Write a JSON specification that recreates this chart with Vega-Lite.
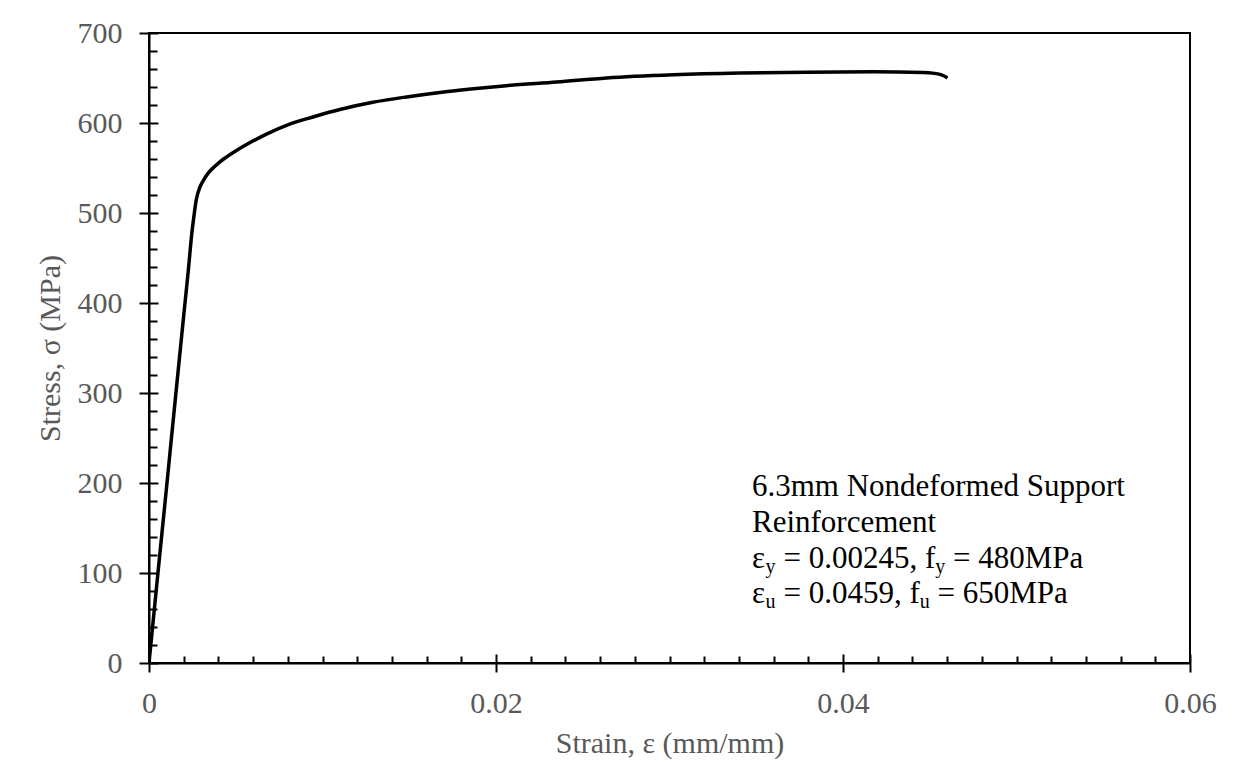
{
  "$schema": "https://vega.github.io/schema/vega-lite/v6.json",
  "width": 1041,
  "height": 630,
  "autosize": {"type": "none"},
  "padding": {"left": 149, "top": 33, "right": 45, "bottom": 100},
  "background": "white",
  "config": {"view": {"stroke": "#000", "strokeWidth": 2}, "font": "Liberation Serif"},
  "datasets": {
    "curve": [
      {"strain": 0, "stress": 0},
      {"strain": 0.0005, "stress": 97},
      {"strain": 0.001, "stress": 193},
      {"strain": 0.0015, "stress": 290},
      {"strain": 0.002, "stress": 386},
      {"strain": 0.00227, "stress": 437},
      {"strain": 0.00246, "stress": 476},
      {"strain": 0.0026, "stress": 498},
      {"strain": 0.0027, "stress": 512},
      {"strain": 0.0028, "stress": 521},
      {"strain": 0.0029, "stress": 527},
      {"strain": 0.0031, "stress": 535},
      {"strain": 0.0034, "stress": 544},
      {"strain": 0.0038, "stress": 552},
      {"strain": 0.0043, "stress": 560},
      {"strain": 0.005, "stress": 569},
      {"strain": 0.0058, "stress": 578},
      {"strain": 0.0068, "stress": 588},
      {"strain": 0.008, "stress": 598},
      {"strain": 0.0095, "stress": 607},
      {"strain": 0.011, "stress": 615},
      {"strain": 0.0129, "stress": 623},
      {"strain": 0.01485, "stress": 629},
      {"strain": 0.01677, "stress": 634},
      {"strain": 0.0187, "stress": 638},
      {"strain": 0.0206, "stress": 641.5},
      {"strain": 0.0235, "stress": 645.5},
      {"strain": 0.02638, "stress": 650},
      {"strain": 0.03022, "stress": 653.5},
      {"strain": 0.03406, "stress": 655.5},
      {"strain": 0.0379, "stress": 656.5},
      {"strain": 0.04175, "stress": 657},
      {"strain": 0.04463, "stress": 656},
      {"strain": 0.04559, "stress": 654},
      {"strain": 0.04602, "stress": 650}
    ],
    "notes": [
      {"x": 0.034755, "y": 185.9, "text": "6.3mm Nondeformed Support"},
      {"x": 0.034755, "y": 145.9, "text": "Reinforcement"},
      {"x": 0.034755, "y": 105.2, "text": "ε"},
      {"x": 0.036565, "y": 105.2, "text": "= 0.00245, f"},
      {"x": 0.04634, "y": 105.2, "text": "= 480MPa"},
      {"x": 0.034755, "y": 66.3, "text": "ε"},
      {"x": 0.036565, "y": 66.3, "text": "= 0.0459, f"},
      {"x": 0.045447, "y": 66.3, "text": "= 650MPa"}
    ],
    "subs": [
      {"x": 0.035539, "y": 99.7, "text": "y"},
      {"x": 0.045314, "y": 99.7, "text": "y"},
      {"x": 0.035539, "y": 60.8, "text": "u"},
      {"x": 0.044421, "y": 60.8, "text": "u"}
    ]
  },
  "layer": [
    {
      "data": {"name": "curve"},
      "mark": {"type": "line", "color": "#000", "strokeWidth": 3.5, "interpolate": "monotone", "clip": true},
      "encoding": {
        "x": {
          "field": "strain", "type": "quantitative",
          "scale": {"domain": [0, 0.06], "nice": false, "zero": false},
          "axis": {
            "orient": "bottom", "values": [0, 0.02, 0.04, 0.06], "format": "~g",
            "tickSize": 9, "tickWidth": 2, "tickColor": "#000",
            "domainColor": "#000", "domainWidth": 2, "grid": false,
            "labelFont": "Liberation Serif", "labelFontSize": 30, "labelColor": "#595959",
            "labelPadding": 16, "labelFlush": false, "labelOverlap": false,
            "title": "Strain, ε (mm/mm)", "titleFont": "Liberation Serif", "titleFontSize": 30,
            "titleFontWeight": "normal", "titleColor": "#595959", "titlePadding": 10
          }
        },
        "y": {
          "field": "stress", "type": "quantitative",
          "scale": {"domain": [0, 700], "nice": false},
          "axis": {
            "orient": "left", "values": [0, 100, 200, 300, 400, 500, 600, 700], "format": "d",
            "tickSize": 10, "tickWidth": 2, "tickColor": "#000",
            "domainColor": "#000", "domainWidth": 2, "grid": false,
            "labelFont": "Liberation Serif", "labelFontSize": 30, "labelColor": "#595959",
            "labelPadding": 17, "labelFlush": false, "labelOverlap": false,
            "title": "Stress, σ (MPa)", "titleFont": "Liberation Serif", "titleFontSize": 30,
            "titleFontWeight": "normal", "titleColor": "#595959", "titlePadding": 12
          }
        }
      }
    },
    {
      "data": {"name": "curve"},
      "mark": {"type": "point", "opacity": 0},
      "encoding": {
        "x": {
          "field": "strain", "type": "quantitative",
          "scale": {"domain": [0, 0.06], "nice": false, "zero": false},
          "axis": {
            "orient": "bottom",
            "values": [0, 0.002, 0.004, 0.006, 0.008, 0.01, 0.012, 0.014, 0.016, 0.018, 0.02, 0.022, 0.024, 0.026, 0.028, 0.03, 0.032, 0.034, 0.036, 0.038, 0.04, 0.042, 0.044, 0.046, 0.048, 0.05, 0.052, 0.054, 0.056, 0.058, 0.06],
            "tickSize": {"condition": {"test": "abs(datum.value / 0.02 - round(datum.value / 0.02)) < 0.01", "value": -9}, "value": -7},
            "tickWidth": 2, "tickColor": "#000", "labels": false, "domain": false, "grid": false, "title": null
          }
        },
        "y": {
          "field": "stress", "type": "quantitative",
          "scale": {"domain": [0, 700], "nice": false},
          "axis": {
            "orient": "left",
            "values": [0, 20, 40, 60, 80, 100, 120, 140, 160, 180, 200, 220, 240, 260, 280, 300, 320, 340, 360, 380, 400, 420, 440, 460, 480, 500, 520, 540, 560, 580, 600, 620, 640, 660, 680, 700],
            "tickSize": {"condition": {"test": "datum.value % 100 == 0", "value": -9}, "value": -8},
            "tickWidth": 2, "tickColor": "#000", "labels": false, "domain": false, "grid": false, "title": null
          }
        }
      }
    },
    {
      "data": {"name": "notes"},
      "mark": {"type": "text", "align": "left", "baseline": "alphabetic", "font": "Liberation Serif", "fontSize": 31, "color": "#000"},
      "encoding": {
        "x": {"field": "x", "type": "quantitative", "axis": null, "scale": {"domain": [0, 0.06], "nice": false, "zero": false}},
        "y": {"field": "y", "type": "quantitative", "axis": null, "scale": {"domain": [0, 700], "nice": false}},
        "text": {"field": "text"}
      }
    },
    {
      "data": {"name": "subs"},
      "mark": {"type": "text", "align": "left", "baseline": "alphabetic", "font": "Liberation Serif", "fontSize": 20, "color": "#000"},
      "encoding": {
        "x": {"field": "x", "type": "quantitative", "axis": null, "scale": {"domain": [0, 0.06], "nice": false, "zero": false}},
        "y": {"field": "y", "type": "quantitative", "axis": null, "scale": {"domain": [0, 700], "nice": false}},
        "text": {"field": "text"}
      }
    }
  ],
  "resolve": {"axis": {"x": "independent", "y": "independent"}}
}
